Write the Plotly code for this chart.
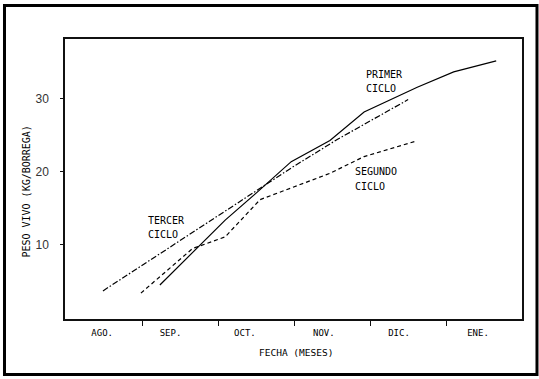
import plotly.graph_objects as go

# Month axis: 0 = start of August, 6 = end of January
month_labels = ["AGO.", "SEP.", "OCT.", "NOV.", "DIC.", "ENE."]
month_label_pos = [0.47, 1.37, 2.35, 3.39, 4.38, 5.42]
month_boundaries = [1, 2, 3, 4, 5]
y_ticks = [10, 20, 30]

# Live weight (kg per ewe lamb) for each cycle
primer_x = [1.23, 2.09, 2.52, 2.96, 3.47, 3.92, 4.62, 5.10, 5.66]
primer_y = [4.5, 13.4, 17.3, 21.4, 24.3, 28.2, 31.6, 33.7, 35.2]

segundo_x = [0.98, 1.66, 2.09, 2.55, 3.47, 3.92, 4.60]
segundo_y = [3.4, 9.5, 11.1, 16.2, 19.8, 22.1, 24.2]

tercer_x = [0.48, 1.30, 2.09, 2.97, 3.56, 3.88, 4.50]
tercer_y = [3.7, 9.3, 14.6, 20.6, 24.4, 26.3, 29.9]

# Curve labels (one entry per text line)
label_lines = ["PRIMER", "CICLO", "SEGUNDO", "CICLO", "TERCER", "CICLO"]
label_x = [3.92, 3.92, 3.78, 3.78, 1.05, 1.05]
label_y = [33.4, 31.4, 20.0, 18.0, 13.4, 11.4]

mono = "DejaVu Sans Mono"
ink = "#000000"

fig = go.Figure()
fig.add_trace(go.Scatter(x=primer_x, y=primer_y, mode="lines",
                         line=dict(color=ink, width=1.2), name="PRIMER CICLO"))
fig.add_trace(go.Scatter(x=segundo_x, y=segundo_y, mode="lines",
                         line=dict(color=ink, width=1.2, dash="4px,3px"), name="SEGUNDO CICLO"))
fig.add_trace(go.Scatter(x=tercer_x, y=tercer_y, mode="lines",
                         line=dict(color=ink, width=1.2, dash="6px,2px,1.5px,2px"), name="TERCER CICLO"))

for t, xx, yy in zip(label_lines, label_x, label_y):
    fig.add_annotation(x=xx, y=yy, xref="x", yref="y", text=t, showarrow=False,
                       xanchor="left", yanchor="middle",
                       font=dict(family=mono, size=10, color=ink))

# Axis titles
fig.add_annotation(x=0, y=0.455, xref="paper", yref="paper", xshift=-38,
                   text="PESO VIVO (KG/BORREGA)", textangle=-90, showarrow=False,
                   xanchor="center", yanchor="middle",
                   font=dict(family=mono, size=10, color=ink))
fig.add_annotation(x=0.505, y=0, xref="paper", yref="paper", yshift=-33,
                   text="FECHA (MESES)", showarrow=False,
                   xanchor="center", yanchor="middle",
                   font=dict(family=mono, size=9.5, color=ink))

# Outer frame around the whole figure
fig.add_shape(type="rect", xref="paper", yref="paper",
              x0=-0.1324, x1=1.0328, y0=-0.198, y1=1.1196,
              line=dict(color="black", width=3), fillcolor="rgba(0,0,0,0)")

fig.update_layout(
    width=539, height=379,
    margin=dict(l=65, r=17, t=39, b=60),
    paper_bgcolor="white", plot_bgcolor="white",
    showlegend=False,
    xaxis=dict(
        range=[-0.02, 6.0], showgrid=False, zeroline=False,
        showline=True, mirror=True, linecolor="#111", linewidth=1.5,
        tickvals=month_label_pos, ticktext=month_labels, ticks="",
        ticklabelstandoff=4,
        tickfont=dict(family=mono, size=9, color=ink),
        minor=dict(tickvals=month_boundaries, ticks="outside", ticklen=5,
                   tickcolor="#111", tickwidth=1, showgrid=False),
    ),
    yaxis=dict(
        range=[-0.15, 38.2], showgrid=False, zeroline=False,
        showline=True, mirror=True, linecolor="#111", linewidth=1.5,
        tickvals=y_ticks, ticks="outside", ticklen=3, tickcolor="#111",
        ticklabelstandoff=9,
        tickfont=dict(family="Liberation Sans", size=12, color="#333"),
    ),
)

fig.write_html("out.html")
